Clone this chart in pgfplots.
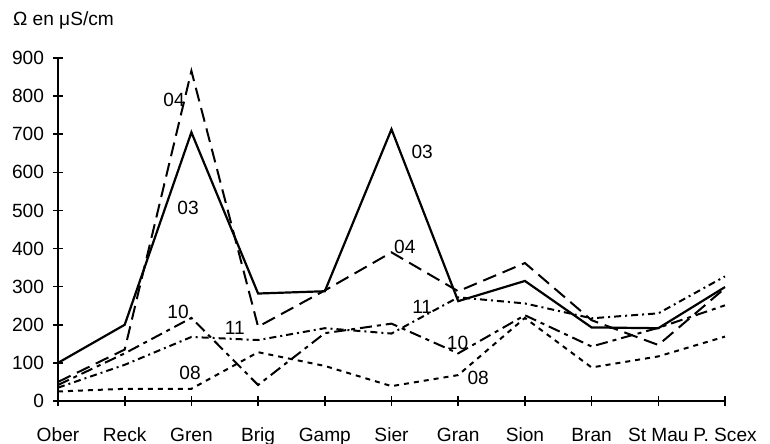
\documentclass[border=0pt]{standalone}
\usepackage{pgfplots}
\pgfplotsset{compat=1.18}
\usepackage{fontspec}
\setmainfont{Liberation Sans}
\newcommand{\lf}{\fontsize{9.6}{11}\selectfont}
\begin{document}
\begin{tikzpicture}
\useasboundingbox (-29bp,-21.5bp) rectangle (356bp,200.5bp);
\begin{axis}[
  at={(0,0)}, anchor=south west,
  scale only axis, width=333.5bp, height=171.5bp,
  xmin=0, xmax=10, ymin=0, ymax=900,
  axis x line=bottom, axis y line=left,
  axis line style={-, line width=1bp},
  xtick={0,...,10},
  xticklabels={Ober,Reck,Gren,Brig,Gamp,Sier,Gran,Sion,Bran,St Mau,P. Scex},
  ytick={0,100,...,900},
  tick align=center, major tick length=5bp,
  tick style={line width=0.8bp, black},
  /pgf/number format/assume math mode=true,
  ticklabel style={font=\lf},
  xticklabel style={anchor=base, inner sep=0pt, yshift=-17.5bp},
  yticklabel style={xshift=-1bp},
  clip=false,
]
\addplot[black, line width=1.1bp] coordinates {(0,100)(1,200)(2,705)(3,282)(4,288)(5,713)(6,262)(7,315)(8,193)(9,191)(10,299)};
\addplot[black, line width=1bp, dash pattern=on 7bp off 3.5bp] coordinates {(0,50)(1,135)(2,866)(3,195)(4,290)(5,390)(6,288)(7,362)(8,212)(9,147)(10,296)};
\addplot[black, line width=1bp, dash pattern=on 6bp off 2.5bp on 2bp off 2.5bp] coordinates {(0,42)(1,125)(2,218)(3,42)(4,178)(5,203)(6,125)(7,225)(8,143)(9,192)(10,251)};
\addplot[black, line width=1bp, dash pattern=on 3.5bp off 2bp on 1bp off 2bp] coordinates {(0,35)(1,95)(2,168)(3,160)(4,191)(5,177)(6,272)(7,256)(8,217)(9,230)(10,327)};
\addplot[black, line width=1bp, dash pattern=on 2.5bp off 2.5bp] coordinates {(0,25)(1,32)(2,32)(3,128)(4,92)(5,39)(6,68)(7,218)(8,88)(9,117)(10,169)};
\node[font=\lf] at (axis cs:1.74,789) {04};
\node[font=\lf] at (axis cs:1.95,507) {03};
\node[font=\lf] at (axis cs:5.46,653) {03};
\node[font=\lf] at (axis cs:5.20,404) {04};
\node[font=\lf] at (axis cs:1.80,234) {10};
\node[font=\lf] at (axis cs:2.65,192) {11};
\node[font=\lf] at (axis cs:1.98,74) {08};
\node[font=\lf] at (axis cs:5.46,247) {11};
\node[font=\lf] at (axis cs:5.99,153) {10};
\node[font=\lf] at (axis cs:6.30,60) {08};
\end{axis}
\node[font=\lf, anchor=west] at (-26bp,190.5bp) {Ω en μS/cm};
\end{tikzpicture}
\end{document}
